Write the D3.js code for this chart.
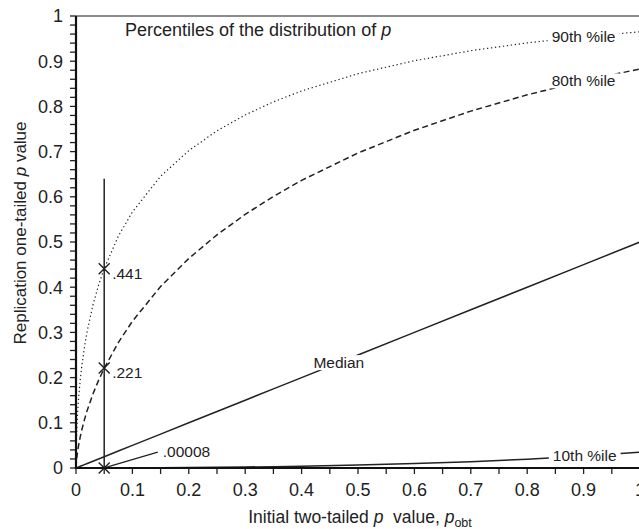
<!DOCTYPE html>
<html>
<head>
<meta charset="utf-8">
<script src="https://cdn.jsdelivr.net/npm/d3@7"></script>
<style>
  body { margin: 0; background: #fff; }
  svg { display: block; font-family: "Liberation Sans", Arial, Helvetica, sans-serif; }
</style>
</head>
<body>
<div id="container"></div>
<script>
/* initial two-tailed p values (x) */
const pObt = [0, 0.0005, 0.001, 0.002, 0.003, 0.005, 0.0075, 0.01, 0.015, 0.02, 0.03, 0.04, 0.05,
  0.075, 0.1, 0.15, 0.2, 0.25, 0.3, 0.35, 0.4, 0.5, 0.6, 0.7, 0.8, 0.9, 1.0];

/* percentiles of the replication one-tailed p value */
const p90 = [0, 0.048, 0.070, 0.1007, 0.124, 0.160, 0.1945, 0.2226, 0.2676, 0.3036, 0.3603, 0.4047, 0.4413,
  0.5127, 0.5665, 0.6454, 0.7022, 0.7460, 0.7811, 0.8100, 0.8342, 0.8724, 0.9011, 0.9232, 0.9405, 0.9542, 0.9650];
const p80 = [0, 0.0110, 0.0179, 0.0287, 0.0377, 0.0530, 0.0690, 0.0829, 0.1071, 0.1280, 0.1636, 0.1939, 0.2207,
  0.2775, 0.3247, 0.4016, 0.4636, 0.5159, 0.5611, 0.6009, 0.6363, 0.6970, 0.7472, 0.7896, 0.8256, 0.8564, 0.8830];
const pMedian = [0, 0.00025, 0.0005, 0.001, 0.0015, 0.0025, 0.00375, 0.005, 0.0075, 0.01, 0.015, 0.02, 0.025,
  0.0375, 0.05, 0.075, 0.1, 0.125, 0.15, 0.175, 0.2, 0.25, 0.3, 0.35, 0.4, 0.45, 0.5];
const p10 = [0, 0.00000006, 0.0000002, 0.0000005, 0.0000009, 0.0000019, 0.0000036, 0.0000057, 0.000011, 0.0000174, 0.000034, 0.000055, 0.000081,
  0.000163, 0.000273, 0.00057, 0.00099, 0.00153, 0.00219, 0.00301, 0.00398, 0.00644, 0.00972, 0.01398, 0.01943, 0.0263, 0.0350];

/* the marked example p_obt = .05 */
const markX = 0.05;
const markValues = [0.441, 0.221, 0.00008];
const markLabels = [".441", ".221", ".00008"];
const refLineTop = 0.64;

const xTicks = [0, 0.1, 0.2, 0.3, 0.4, 0.5, 0.6, 0.7, 0.8, 0.9, 1];
const yTicks = [0, 0.1, 0.2, 0.3, 0.4, 0.5, 0.6, 0.7, 0.8, 0.9, 1];

const width = 639, height = 529;
const margin = {top: 16, left: 76};
const plotW = 564, plotH = 452;

const svg = d3.select("#container").append("svg")
  .attr("width", width)
  .attr("height", height);

const x = d3.scaleLinear().domain([0, 1]).range([margin.left, margin.left + plotW]);
const y = d3.scaleLinear().domain([0, 1]).range([margin.top + plotH, margin.top]);

// top frame line (grey)
svg.append("line")
  .attr("x1", x(0)).attr("x2", x(1))
  .attr("y1", y(1)).attr("y2", y(1))
  .attr("stroke", "#666").attr("stroke-width", 1.5);

const line = d3.line().x(d => x(d[0])).y(d => y(d[1]));

const series = [
  {key: "p90", values: p90, dash: "1.3,2.7", label: "90th %ile", at: 0.9},
  {key: "p80", values: p80, dash: "6,3.5", label: "80th %ile", at: 0.9},
  {key: "median", values: pMedian, dash: null, label: "Median", at: 0.466},
  {key: "p10", values: p10, dash: null, label: "10th %ile", at: 0.902}
];

svg.append("g").selectAll("path")
  .data(series)
  .join("path")
  .attr("d", s => line(pObt.map((p, i) => [p, s.values[i]])))
  .attr("fill", "none")
  .attr("stroke", "#222")
  .attr("stroke-width", s => s.key === "p90" ? 1.2 : 1.5)
  .attr("stroke-dasharray", s => s.dash);

// vertical reference line at p_obt = .05
svg.append("line")
  .attr("x1", x(markX)).attr("x2", x(markX))
  .attr("y1", y(0)).attr("y2", y(refLineTop))
  .attr("stroke", "#222").attr("stroke-width", 1.5);

// leader line for .00008
svg.append("line")
  .attr("x1", x(markX)).attr("y1", y(markValues[2]))
  .attr("x2", x(0.145)).attr("y2", y(0.035))
  .attr("stroke", "#222").attr("stroke-width", 1.3);

// X markers
const cross = 5.5;
const marks = svg.append("g").selectAll("g")
  .data(markValues)
  .join("g")
  .attr("transform", d => `translate(${x(markX)},${y(d)})`);
marks.append("path")
  .attr("d", `M${-cross},${-cross}L${cross},${cross}M${-cross},${cross}L${cross},${-cross}`)
  .attr("stroke", "#222").attr("stroke-width", 1.4);

svg.append("text").attr("x", x(markX) + 8).attr("y", y(markValues[0]) + 10)
  .attr("font-size", 15.5).attr("fill", "#222").text(markLabels[0]);
svg.append("text").attr("x", x(markX) + 8).attr("y", y(markValues[1]) + 10)
  .attr("font-size", 15.5).attr("fill", "#222").text(markLabels[1]);
svg.append("text").attr("x", x(0.145) + 5).attr("y", y(0.035) + 5)
  .attr("font-size", 15.5).attr("fill", "#222").text(markLabels[2]);

// curve labels sitting on the curves, with a white knock-out behind them
const bisect = d3.bisector(d => d).left;
function valueAt(vals, p) {
  const i = Math.max(1, bisect(pObt, p));
  const t = (p - pObt[i - 1]) / (pObt[i] - pObt[i - 1]);
  return vals[i - 1] + t * (vals[i] - vals[i - 1]);
}
series.forEach(s => {
  const cx = x(s.at), cy = y(valueAt(s.values, s.at));
  const g = svg.append("g");
  const rect = g.append("rect").attr("fill", "#fff");
  const t = g.append("text")
    .attr("x", cx).attr("y", cy)
    .attr("text-anchor", "middle")
    .attr("dy", "0.35em")
    .attr("font-size", 15.5).attr("fill", "#222")
    .text(s.label);
  const b = t.node().getBBox();
  rect.attr("x", b.x - 4).attr("y", b.y + 1).attr("width", b.width + 8).attr("height", b.height - 2);
});

// axes
const xAxis = svg.append("g").attr("transform", `translate(0,${y(0)})`);
xAxis.selectAll("line.tick")
  .data(d3.range(0, 21).map(i => i / 20))
  .join("line")
  .attr("class", "tick")
  .attr("x1", d => x(d)).attr("x2", d => x(d))
  .attr("y1", 0).attr("y2", 6)
  .attr("stroke", "#222").attr("stroke-width", 1.3);
xAxis.selectAll("text")
  .data(xTicks)
  .join("text")
  .attr("x", d => x(d)).attr("y", 28)
  .attr("text-anchor", "middle")
  .attr("font-size", 18).attr("fill", "#222")
  .text(d => d === 0 || d === 1 ? String(d) : d3.format(".1f")(d));
xAxis.append("line")
  .attr("x1", x(0) - 1).attr("x2", x(1))
  .attr("stroke", "#111").attr("stroke-width", 2.2);

const yAxis = svg.append("g").attr("transform", `translate(${x(0)},0)`);
yAxis.selectAll("line.tick")
  .data(d3.range(0, 51).map(i => i / 50))
  .join("line")
  .attr("class", "tick")
  .attr("y1", d => y(d)).attr("y2", d => y(d))
  .attr("x1", 0).attr("x2", -6)
  .attr("stroke", "#222").attr("stroke-width", 1.3);
yAxis.selectAll("text")
  .data(yTicks)
  .join("text")
  .attr("x", -13).attr("y", d => y(d))
  .attr("dy", "0.35em")
  .attr("text-anchor", "end")
  .attr("font-size", 18).attr("fill", "#222")
  .text(d => d === 0 || d === 1 ? String(d) : d3.format(".1f")(d));
yAxis.append("line")
  .attr("y1", y(0) + 1).attr("y2", y(1))
  .attr("stroke", "#111").attr("stroke-width", 2.2);

// titles
const title = svg.append("text")
  .attr("x", 125).attr("y", 36)
  .attr("font-size", 18).attr("fill", "#222");
title.append("tspan").text("Percentiles of the distribution of ");
title.append("tspan").attr("font-style", "italic").text("p");

const xTitle = svg.append("text")
  .attr("x", 360).attr("y", 523)
  .attr("text-anchor", "middle")
  .attr("font-size", 17.5).attr("fill", "#222");
xTitle.append("tspan").text("Initial two-tailed ");
xTitle.append("tspan").attr("font-style", "italic").text("p");
xTitle.append("tspan").text("\u00a0 value, ");
xTitle.append("tspan").attr("font-style", "italic").text("p");
xTitle.append("tspan").attr("font-size", 12.5).attr("dy", 4).text("obt");

const yTitle = svg.append("text")
  .attr("transform", `translate(26,233) rotate(-90)`)
  .attr("text-anchor", "middle")
  .attr("font-size", 17).attr("fill", "#222");
yTitle.append("tspan").text("Replication one-tailed ");
yTitle.append("tspan").attr("font-style", "italic").text("p");
yTitle.append("tspan").text(" value");
</script>
</body>
</html>
